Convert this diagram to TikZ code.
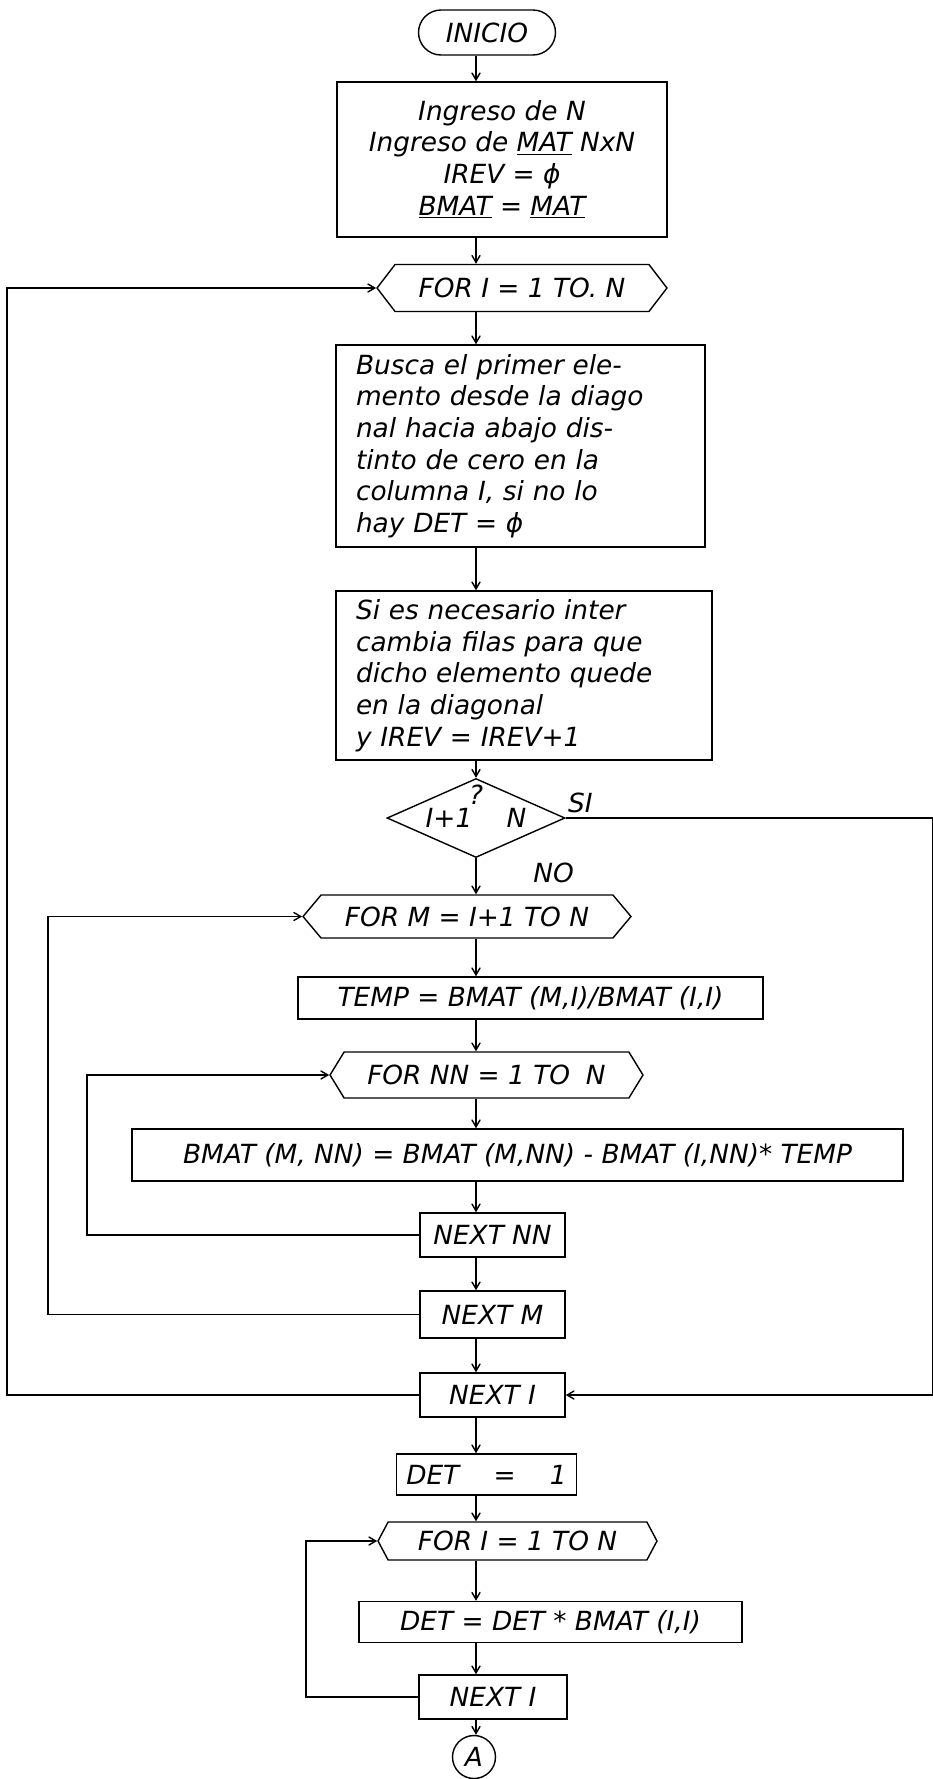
\documentclass[tikz,border=0pt]{standalone}
\usepackage{fontspec}
\setmainfont{DejaVu Sans}
\usepackage{tikz}
\usetikzlibrary{shapes,arrows,positioning,calc}

\newcommand{\hw}{\fontsize{15}{18}\selectfont\itshape}

\begin{document}
\begin{tikzpicture}[x=0.02cm, y=-0.02cm, line width=0.8pt, >=angle 60,
    term/.style={rounded rectangle, draw, inner sep=0pt, font=\hw},
    box/.style={rectangle, draw, inner xsep=0pt, inner ysep=0pt, text centered, font=\hw},
    txtbox/.style={rectangle, draw, inner xsep=0.4cm, inner ysep=0pt, align=left, font=\hw},
    forloop/.style={signal, signal to=west and east, signal pointer angle=110, draw, inner sep=0pt, font=\hw},
    decis/.style={diamond, draw, aspect=2.25, inner sep=0pt, font=\hw},
    conn/.style={circle, draw, inner sep=0pt, font=\hw},
    lbl/.style={inner sep=1pt, font=\hw}]

  \useasboundingbox (0,0) rectangle (933,1779);

  % guide lines for the flow and the loops
  \coordinate (axis) at (476,0);
  \coordinate (redge) at (933,0);
  \coordinate (lpI) at (7,0);
  \coordinate (lpM) at (48,0);
  \coordinate (lpNN) at (87,0);
  \coordinate (lpJ) at (306,0);

  \node[term, minimum width=2.74cm, minimum height=0.9cm] (inicio) at (487,32.5) {INICIO};
  \node[box, align=center, minimum width=6.6cm, minimum height=3.1cm] (ingreso) at (502,159.5)
    {Ingreso de N\\ Ingreso de \underline{MAT} NxN\\ IREV = ϕ\\ \underline{BMAT} = \underline{MAT}};
  \node[forloop, signal pointer angle=105, minimum width=5.8cm, minimum height=0.94cm] (fori) at (522,288) {FOR I = 1 TO. N};
  \node[txtbox, text width=6.58cm, minimum height=4.04cm] (busca) at (520.5,446)
    {Busca el primer ele-\\ mento desde la diago\\ nal hacia abajo dis-\\ tinto de cero en la\\ columna I, si no lo\\ hay DET = ϕ};
  \node[txtbox, text width=6.72cm, minimum height=3.38cm] (sies) at (524,675.5)
    {Si es necesario inter\\ cambia filas para que\\ dicho elemento quede\\ en la diagonal\\ y IREV = IREV+1};
  \node[decis, minimum width=3.56cm, minimum height=1.58cm] (cond) at (476,818) {I+1\hspace{1.3em}N};
  \node[lbl, below=0.1cm of cond.north] (qmark) {?};
  \node[lbl, above right=0.05cm and 0cm of cond.east] (si) {SI};
  \node[lbl, below right=0.05cm and 1.1cm of cond.south] (no) {NO};

  \node[forloop, signal pointer angle=100, minimum width=6.56cm, minimum height=0.86cm] (form) at (467,916.5) {FOR M = I+1 TO N};
  \node[box, minimum width=9.3cm, minimum height=0.84cm] (temp) at (530.5,998) {TEMP = BMAT (M,I)/BMAT (I,I)};
  \node[forloop, signal pointer angle=117, minimum width=6.26cm, minimum height=0.92cm] (fornn) at (486.5,1075) {FOR NN = 1 TO\hspace{0.6em}N};
  \node[box, minimum width=15.42cm, minimum height=1.04cm] (bmat) at (517.5,1155)
    {BMAT (M, NN) = BMAT (M,NN) - BMAT (I,NN)* TEMP};
  \node[box, minimum width=2.9cm, minimum height=0.88cm] (nextnn) at (492.5,1235) {NEXT NN};
  \node[box, minimum width=2.9cm, minimum height=0.94cm] (nextm) at (492.5,1314.5) {NEXT M};
  \node[box, minimum width=2.9cm, minimum height=0.88cm] (nexti) at (492.5,1395) {NEXT I};
  \node[box, minimum width=3.6cm, minimum height=0.82cm] (det) at (486.5,1474.5) {DET\hspace{1.3em}=\hspace{1.3em}1};
  \node[forloop, signal pointer angle=124, minimum width=5.58cm, minimum height=0.76cm] (forj) at (517.5,1541) {FOR I = 1 TO N};
  \node[box, minimum width=7.66cm, minimum height=0.82cm] (detmul) at (550.5,1622) {DET = DET * BMAT (I,I)};
  \node[box, minimum width=2.96cm, minimum height=0.88cm] (nextj) at (493,1697) {NEXT I};
  \node[conn, minimum size=0.86cm] (conA) at (474,1757) {A};

  % main flow
  \draw[->] (inicio.south -| axis) -- (ingreso.north -| axis);
  \draw[->] (ingreso.south -| axis) -- (fori.north -| axis);
  \draw[->] (fori.south -| axis) -- (busca.north -| axis);
  \draw[->] (busca.south -| axis) -- (sies.north -| axis);
  \draw[->] (sies.south -| axis) -- (cond.north);
  \draw[->] (cond.south) -- (form.north -| axis);
  \draw[->] (form.south -| axis) -- (temp.north -| axis);
  \draw[->] (temp.south -| axis) -- (fornn.north -| axis);
  \draw[->] (fornn.south -| axis) -- (bmat.north -| axis);
  \draw[->] (bmat.south -| axis) -- (nextnn.north -| axis);
  \draw[->] (nextnn.south -| axis) -- (nextm.north -| axis);
  \draw[->] (nextm.south -| axis) -- (nexti.north -| axis);
  \draw[->] (nexti.south -| axis) -- (det.north -| axis);
  \draw[->] (det.south -| axis) -- (forj.north -| axis);
  \draw[->] (forj.south -| axis) -- (detmul.north -| axis);
  \draw[->] (detmul.south -| axis) -- (nextj.north -| axis);
  \draw[->] (nextj.south -| axis) -- (conA.north -| axis);

  % SI branch
  \draw[->] (cond.east) -- (cond.east -| redge) |- (nexti.east);

  % loops back
  \draw[->] (nexti.west) -- (nexti.west -| lpI) |- (fori.west);
  \draw[->] (nextm.west) -- (nextm.west -| lpM) |- (form.west);
  \draw[->] (nextnn.west) -- (nextnn.west -| lpNN) |- (fornn.west);
  \draw[->] (nextj.west) -- (nextj.west -| lpJ) |- (forj.west);
\end{tikzpicture}
\end{document}
